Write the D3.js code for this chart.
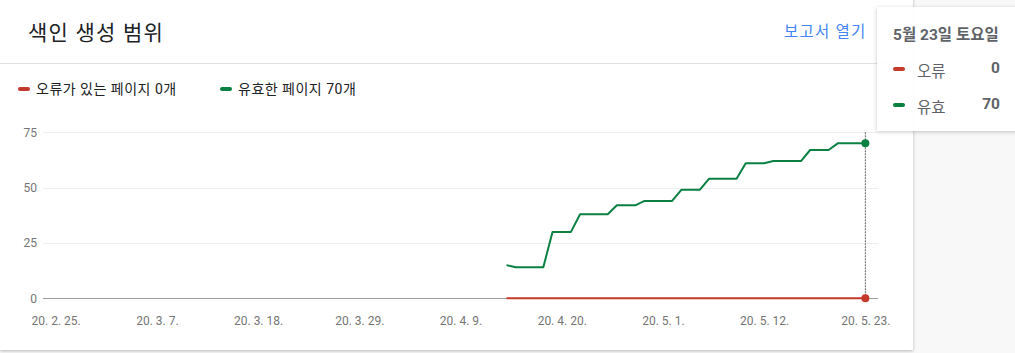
<!DOCTYPE html>
<html>
<head>
<meta charset="utf-8">
<title>색인 생성 범위</title>
<script src="https://cdn.jsdelivr.net/npm/d3@7"></script>
<style>
  body { margin: 0; background: #f8f8f8; font-family: Roboto, "Noto Sans CJK KR", sans-serif; }
  #wrap { position: relative; width: 1015px; height: 353px; overflow: hidden; }
  .card { position: absolute; left: 0; top: -4px; width: 913px; height: 354px; background: #fff;
          box-shadow: 0 1px 3px rgba(60,64,67,.35); }
  svg { position: absolute; left: 0; top: 0; }
  .tip { position: absolute; left: 877px; top: 7px; width: 160px; height: 124px;
         background: rgba(255,255,255,.93); box-shadow: 0 1px 4px rgba(0,0,0,.22); color: #5f6368; }
  .tip .date { position: absolute; left: 16px; top: 15px; font-size: 15.5px; font-weight: bold; white-space: nowrap; }
  .tip .row { position: absolute; left: 16px; width: 107px; height: 20px; font-size: 15.5px; }
  .tip .dash { position: absolute; left: 0; top: 8px; width: 12px; height: 4px; border-radius: 2px; }
  .tip .lab { position: absolute; left: 24px; top: 0; }
  .tip .val { position: absolute; right: 0; top: 0; font-weight: bold; }
</style>
</head>
<body>
<div id="wrap">
  <div class="card"></div>
  <svg id="chart" width="1015" height="353"></svg>
  <div class="tip" id="tip"></div>
</div>
<script>
const title = "색인 생성 범위";
const linkText = "보고서 열기";
const seriesNames = ["오류", "유효"];
const legendLabels = ["오류가 있는 페이지 0개", "유효한 페이지 70개"];
const colors = ["#c5392a", "#0b8043"];

// daily values, 2020-04-14 .. 2020-05-23
const firstDay = new Date(2020, 3, 14);
const validValues = [15, 14, 14, 14, 14, 30, 30, 30, 38, 38, 38, 38, 42, 42, 42, 44, 44, 44, 44, 49,
                     49, 49, 54, 54, 54, 54, 61, 61, 61, 62, 62, 62, 62, 67, 67, 67, 70, 70, 70, 70];
const errorValues = [0, 0, 0, 0, 0, 0, 0, 0, 0, 0, 0, 0, 0, 0, 0, 0, 0, 0, 0, 0,
                     0, 0, 0, 0, 0, 0, 0, 0, 0, 0, 0, 0, 0, 0, 0, 0, 0, 0, 0, 0];
const yTicks = [0, 25, 50, 75];
const tickStart = new Date(2020, 1, 25);
const tickEnd = new Date(2020, 4, 23);
const tooltipDate = "5월 23일 토요일";

const dates = validValues.map((v, i) => d3.timeDay.offset(firstDay, i));
const series = [errorValues, validValues].map((vals, k) => ({
  name: seriesNames[k], color: colors[k],
  points: vals.map((v, i) => ({ date: dates[i], value: v }))
}));

const svg = d3.select("#chart");
const font = 'Roboto, "Noto Sans CJK KR", sans-serif';

const x = d3.scaleTime()
  .domain([d3.timeHour.offset(tickStart, -33), d3.timeHour.offset(tickEnd, 33)])
  .range([43, 878]);
const y = d3.scaleLinear().domain([0, 75]).range([298.3, 132.3]);

// header
svg.append("text").attr("x", 28).attr("y", 40).text(title)
  .attr("font-family", font).attr("font-size", 21).attr("letter-spacing", 1.2).attr("fill", "#202124");
svg.append("text").attr("x", 784).attr("y", 37).text(linkText)
  .attr("font-family", font).attr("font-size", 15.5).attr("letter-spacing", 1.2).attr("fill", "#4285f4");
svg.append("path").attr("d", "M881,27 L885,32 L881,37").attr("fill", "none")
  .attr("stroke", "#c6dafc").attr("stroke-width", 1.5);
svg.append("line").attr("x1", 0).attr("x2", 913).attr("y1", 63.5).attr("y2", 63.5)
  .attr("stroke", "#e0e0e0");

// legend
const lg = svg.selectAll("g.legend").data(legendLabels).join("g")
  .attr("class", "legend")
  .attr("transform", (d, i) => `translate(${18 + i * 202},89)`);
lg.append("rect").attr("x", 0).attr("y", -2).attr("width", 12).attr("height", 4).attr("rx", 2)
  .attr("fill", (d, i) => colors[i]);
lg.append("text").attr("x", 18).attr("dy", "0.35em").text(d => d)
  .attr("font-family", font).attr("font-size", 14).attr("letter-spacing", 0.5).attr("fill", "#202124");

// y grid + labels
const yAxis = svg.append("g");
yAxis.selectAll("line").data(yTicks).join("line")
  .attr("x1", 43).attr("x2", 878)
  .attr("y1", d => Math.round(y(d)) + 0.5).attr("y2", d => Math.round(y(d)) + 0.5)
  .attr("stroke", d => d === 0 ? "#9e9e9e" : "#eeeeee");
yAxis.selectAll("text").data(yTicks).join("text")
  .attr("x", 37).attr("y", d => y(d)).attr("dy", "0.35em").attr("text-anchor", "end")
  .text(d => d).attr("font-family", font).attr("font-size", 12).attr("fill", "#757575");

// x axis labels
const xTicks = d3.timeDay.range(tickStart, d3.timeDay.offset(tickEnd, 1), 11);
const fmt = d3.timeFormat("%y. %-m. %-d.");
const xAxis = d3.axisBottom(x).tickValues(xTicks).tickFormat(fmt).tickSize(0).tickPadding(0);
const xg = svg.append("g").attr("transform", "translate(0,315)").call(xAxis);
xg.select(".domain").remove();
xg.selectAll("text").attr("font-family", font).attr("font-size", 12).attr("fill", "#757575")
  .attr("dy", "0.35em").attr("y", 6);

// hover line
const last = dates[dates.length - 1];
svg.append("line").attr("x1", x(last)).attr("x2", x(last)).attr("y1", y(75)).attr("y2", y(0))
  .attr("stroke", "#616161").attr("stroke-dasharray", "2,1");

// lines
const line = d3.line().x(d => x(d.date)).y(d => y(d.value));
svg.selectAll("path.series").data(series).join("path")
  .attr("class", "series")
  .attr("d", d => line(d.points))
  .attr("fill", "none").attr("stroke", d => d.color).attr("stroke-width", 2)
  .attr("stroke-linejoin", "round");

svg.selectAll("circle.dot").data(series).join("circle")
  .attr("class", "dot")
  .attr("cx", d => x(d.points[d.points.length - 1].date))
  .attr("cy", d => y(d.points[d.points.length - 1].value))
  .attr("r", 4).attr("fill", d => d.color);

// tooltip
const tip = d3.select("#tip");
tip.append("div").attr("class", "date").text(tooltipDate);
const rows = tip.selectAll("div.row").data(series).join("div")
  .attr("class", "row")
  .style("top", (d, i) => (52 + i * 36) + "px");
rows.append("div").attr("class", "dash").style("background", d => d.color);
rows.append("div").attr("class", "lab").text(d => d.name);
rows.append("div").attr("class", "val").text(d => d.points[d.points.length - 1].value);
</script>
</body>
</html>
